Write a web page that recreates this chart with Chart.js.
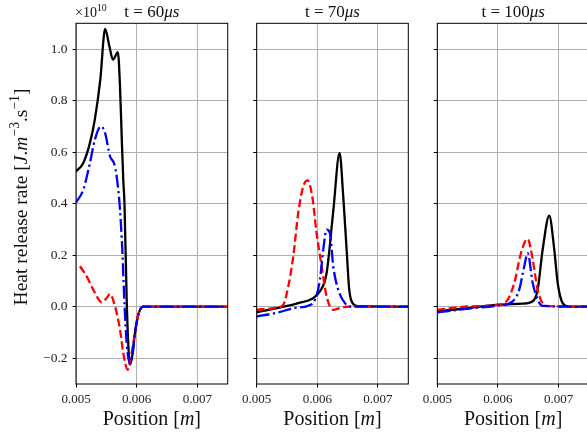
<!DOCTYPE html>
<html>
<head>
<meta charset="utf-8">
<script src="https://cdn.jsdelivr.net/npm/chart.js@4.4.0/dist/chart.umd.min.js"></script>
<style>
  html, body { margin: 0; padding: 0; background: #fff; overflow: hidden; width: 587px; height: 435px; }
  canvas { position: absolute; top: 0; }
</style>
</head>
<body>
<canvas id="c60" width="240" height="435" style="left:0px"></canvas>
<canvas id="c70" width="180" height="435" style="left:236px"></canvas>
<canvas id="c100" width="180" height="435" style="left:417px"></canvas>
<script>
// axis ticks (heat release rate in units of 1e10)
const xTicks = [0.005, 0.006, 0.007];
const yTicks = [-0.2, 0.0, 0.2, 0.4, 0.6, 0.8, 1.0];

// t = 60 us
const pos60Black = [0.005, 0.00512, 0.00523, 0.00531, 0.0054, 0.00548, 0.00555, 0.00561, 0.00569, 0.005725, 0.005753, 0.005779, 0.005799, 0.005835, 0.005862, 0.00589, 0.00593, 0.005972, 0.006026, 0.006109, 0.0075];
const hrr60Black = [0.525, 0.558, 0.636, 0.726, 0.88, 1.078, 1.011, 0.959, 0.988, 0.856, 0.661, 0.493, 0.40, 0.03, -0.15, -0.225, -0.186, -0.102, -0.031, 0.0, 0.0];
const pos60Red = [0.005066, 0.005176, 0.005285, 0.005395, 0.005423, 0.005506, 0.00556, 0.005643, 0.005725, 0.005779, 0.005852, 0.005906, 0.005972, 0.006026, 0.006109, 0.0075];
const hrr60Red = [0.157, 0.118, 0.066, 0.021, 0.017, 0.034, 0.049, 0.001, -0.089, -0.18, -0.245, -0.193, -0.102, -0.031, 0.0, 0.0];
const pos60Blue = [0.005, 0.00512, 0.00523, 0.00531, 0.00541, 0.00548, 0.00556, 0.00563, 0.00567, 0.005725, 0.005763, 0.005796, 0.005835, 0.00589, 0.00593, 0.005972, 0.006026, 0.006109, 0.0075];
const hrr60Blue = [0.404, 0.454, 0.558, 0.648, 0.70, 0.674, 0.584, 0.555, 0.506, 0.377, 0.221, 0.027, -0.141, -0.221, -0.186, -0.102, -0.031, 0.0, 0.0];

// t = 70 us
const pos70Black = [0.005, 0.005466, 0.005685, 0.005906, 0.006043, 0.006153, 0.006262, 0.006367, 0.006427, 0.006483, 0.006526, 0.006587, 0.006674, 0.0075];
const hrr70Black = [-0.022, 0.001, 0.014, 0.03, 0.06, 0.131, 0.369, 0.597, 0.428, 0.221, 0.066, 0.012, 0.002, 0.0];
const pos70Red = [0.005, 0.005301, 0.005438, 0.005521, 0.005603, 0.005685, 0.005768, 0.00584, 0.005916, 0.005988, 0.006071, 0.006153, 0.006262, 0.006372, 0.006509, 0.0075];
const hrr70Red = [-0.012, -0.005, 0.008, 0.079, 0.195, 0.364, 0.467, 0.49, 0.428, 0.286, 0.157, 0.04, -0.012, -0.005, 0.0, 0.0];
const pos70Blue = [0.005, 0.005301, 0.005631, 0.00585, 0.00596, 0.006043, 0.006097, 0.006153, 0.006208, 0.006262, 0.006344, 0.006455, 0.006565, 0.0075];
const hrr70Blue = [-0.038, -0.025, -0.005, 0.004, 0.027, 0.105, 0.221, 0.299, 0.286, 0.157, 0.066, 0.014, 0.0, 0.0];

// t = 100 us
const pos100Black = [0.005, 0.005527, 0.006021, 0.006407, 0.006572, 0.006654, 0.006736, 0.006845, 0.006928, 0.006984, 0.007066, 0.007175, 0.0075];
const hrr100Black = [-0.018, -0.005, 0.008, 0.012, 0.021, 0.066, 0.221, 0.353, 0.221, 0.092, 0.014, 0.0, 0.0];
const pos100Red = [0.005, 0.005527, 0.006021, 0.00616, 0.006269, 0.006379, 0.006489, 0.006572, 0.006654, 0.006736, 0.006845, 0.0075];
const hrr100Red = [-0.012, 0.001, 0.008, 0.027, 0.092, 0.208, 0.263, 0.183, 0.066, 0.014, 0.002, 0.0];
const pos100Blue = [0.005, 0.005527, 0.006021, 0.006242, 0.00635, 0.006433, 0.006489, 0.006572, 0.006654, 0.006736, 0.0075];
const hrr100Blue = [-0.022, -0.007, 0.005, 0.021, 0.066, 0.157, 0.208, 0.092, 0.027, 0.003, 0.0];

const SERIF = '"Liberation Serif", "DejaVu Serif", serif';

function pts(xs, ys) {
  return xs.map((x, i) => ({ x: x, y: ys[i] }));
}

// draw a run of text pieces, some italic / superscript
function drawRich(ctx, segs, x, y, size, align) {
  const fontOf = s => (s.it ? 'italic ' : '') + (s.sup ? size * 0.7 : size) + 'px ' + SERIF;
  let total = 0;
  segs.forEach(s => { ctx.font = fontOf(s); total += ctx.measureText(s.t).width; });
  let cx = align === 'left' ? x : x - total / 2;
  ctx.textBaseline = 'alphabetic';
  ctx.textAlign = 'left';
  segs.forEach(s => {
    ctx.font = fontOf(s);
    ctx.fillText(s.t, cx, s.sup ? y - size * 0.42 : y);
    cx += ctx.measureText(s.t).width;
  });
}

const decor = {
  id: 'decor',
  afterDraw(chart, args, opts) {
    const ctx = chart.ctx;
    const a = chart.chartArea;
    ctx.save();
    ctx.fillStyle = '#111';
    // frame
    ctx.strokeStyle = '#000';
    ctx.lineWidth = 1;
    ctx.strokeRect(a.left, a.top, a.right - a.left, a.bottom - a.top);
    const mid = (a.left + a.right) / 2;
    drawRich(ctx, [{ t: 't = ' + opts.time }, { t: 'μs', it: true }], mid, 17, 17);
    drawRich(ctx, [{ t: 'Position [' }, { t: 'm', it: true }, { t: ']' }], mid, 425, 20);
    if (opts.first) {
      drawRich(ctx, [{ t: '×10' }, { t: '10', sup: true }], a.left - 1, 17, 14, 'left');
      ctx.save();
      ctx.translate(27, 197);
      ctx.rotate(-Math.PI / 2);
      drawRich(ctx, [
        { t: 'Heat release rate [' }, { t: 'J', it: true }, { t: '.' }, { t: 'm', it: true },
        { t: '−3', sup: true }, { t: '.s' }, { t: '−1', sup: true }, { t: ']' }
      ], 0, 0, 19.5);
      ctx.restore();
    }
    ctx.restore();
  }
};

function makePanel(id, time, black, red, blue, yWidth, padRight, first) {
  new Chart(document.getElementById(id), {
    type: 'line',
    data: {
      datasets: [
        { data: blue, borderColor: '#0000ff', borderDash: [13, 3.5, 2.2, 3.5] },
        { data: red, borderColor: '#ff0000', borderDash: [8, 3.5] },
        { data: black, borderColor: '#000000' }
      ]
    },
    options: {
      responsive: false,
      animation: false,
      layout: { padding: { top: 23.3, right: padRight, left: 0, bottom: 0 } },
      elements: {
        line: { borderWidth: 2.3, cubicInterpolationMode: 'monotone', fill: false },
        point: { radius: 0 }
      },
      plugins: {
        legend: { display: false },
        tooltip: { enabled: false },
        decor: { time: time, first: first }
      },
      scales: {
        x: {
          type: 'linear',
          min: 0.005,
          max: 0.0075,
          afterBuildTicks: s => { s.ticks = xTicks.map(v => ({ value: v })); },
          afterFit: s => { s.height = 51; },
          border: { display: false },
          grid: { color: '#b0b0b0', lineWidth: 1, tickColor: '#000', tickLength: 3.5, tickWidth: 1 },
          ticks: {
            autoSkip: false, maxRotation: 0, padding: 4, color: '#222',
            font: { family: SERIF, size: 13 },
            callback: v => v.toFixed(3)
          }
        },
        y: {
          type: 'linear',
          min: -0.3,
          max: 1.1,
          afterBuildTicks: s => { s.ticks = yTicks.map(v => ({ value: v })); },
          afterFit: s => { s.width = yWidth; },
          border: { display: false },
          grid: { color: '#b0b0b0', lineWidth: 1, tickColor: '#000', tickLength: 3.5, tickWidth: 1 },
          ticks: {
            display: first, padding: 5, color: '#222',
            font: { family: SERIF, size: 13.5 },
            callback: v => (v < 0 ? '−' : '') + Math.abs(v).toFixed(1)
          }
        }
      }
    },
    plugins: [decor]
  });
}

makePanel('c60', '60', pts(pos60Black, hrr60Black), pts(pos60Red, hrr60Red), pts(pos60Blue, hrr60Blue), 76, 12.3, true);
makePanel('c70', '70', pts(pos70Black, hrr70Black), pts(pos70Red, hrr70Red), pts(pos70Blue, hrr70Blue), 20.7, 7.7, false);
makePanel('c100', '100', pts(pos100Black, hrr100Black), pts(pos100Red, hrr100Red), pts(pos100Blue, hrr100Blue), 20.3, 8, false);
</script>
</body>
</html>
